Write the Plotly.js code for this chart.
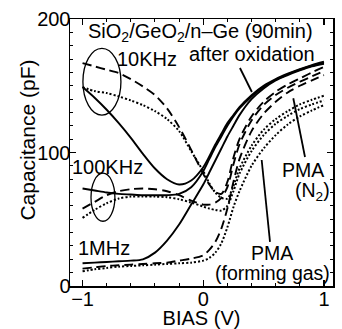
<!DOCTYPE html>
<html>
<head>
<meta charset="utf-8">
<script src="https://cdn.plot.ly/plotly-3.0.1.min.js"></script>
<style>html,body{margin:0;padding:0;background:#fff;}#chart{width:342px;height:329px;}</style>
</head>
<body>
<div id="chart"></div>
<script>
// Bias voltage (V)
const bias = [-1,-0.9,-0.8,-0.7,-0.6,-0.5,-0.4,-0.3,-0.2,-0.1,0,0.05,0.1,0.15,0.2,0.25,0.3,0.4,0.5,0.6,0.7,0.8,0.9,1];
// After oxidation (solid)
const afterOx10k  = [149,141,132,122,111,99,88,80,76,79,89,97,106,114,122,128,134,143,150,155,159,162.5,165.5,168];
const afterOx100k = [73,71.5,70,69,68.5,68,68,68,69,74,86,95,104,112,120,127,133,142,149,154.5,158.5,162,165,167];
const afterOx1M   = [17,17.5,18,18.5,19,20,25,34,46,61,76,85,94,103,112,120,128,140,148,154,158,161.5,164.5,166.5];
// PMA (N2) (dashed)
const pmaN2_10k  = [167,164.5,162,159.5,155,149.5,143,133,119,102,84,76,70.5,69,78,96,110,127,138,145.5,151,155.5,160,164];
const pmaN2_100k = [58,63,68,71,72.5,73,72.5,71,68,64,61,61,62.5,66,74,91,106,124,135.5,143,148.5,153,157,161];
const pmaN2_1M   = [13,14,15,15.5,16,16.5,17,17.5,19,20.5,23,27,33,43,58,78,95,116,129,138,145,150,154,158];
// PMA (forming gas) (dotted)
const pmaFG_10k  = [149,146,144.5,142,139,135.5,131,125,116,101,86,77,70,66,65.5,75,88,105,117,125,131,136,139.5,142.5];
const pmaFG_100k = [51,57,62,65.5,67,67,67,66.5,65,62.5,59.5,58,57,56.5,60,71,84,101,113,121.5,127.5,132.5,136,139];
const pmaFG_1M   = [11,12.5,13.5,14.5,15,15.5,16,16.5,17,17.5,19,21,25,32,44,59,71,90,103,113,121,127,131.5,135.5];

const xTicks = [-1, 0, 1];
const yTicks = [0, 100, 200];

const FONT = 'Liberation Sans, Arial, Helvetica, sans-serif';
const styles = {
  solid: {color:'#000', width:1.9, dash:'solid'},
  dash:  {color:'#000', width:1.9, dash:'9px,5px'},
  dot:   {color:'#000', width:2, dash:'2px,2px'}
};
function tr(y, st){
  return {x: bias, y: y, type:'scatter', mode:'lines', line: Object.assign({shape:'spline', smoothing:0.8}, styles[st]), showlegend:false, hoverinfo:'skip'};
}
const data = [
  tr(afterOx10k,'solid'), tr(afterOx100k,'solid'), tr(afterOx1M,'solid'),
  tr(pmaN2_10k,'dash'), tr(pmaN2_100k,'dash'), tr(pmaN2_1M,'dash'),
  tr(pmaFG_10k,'dot'), tr(pmaFG_100k,'dot'), tr(pmaFG_1M,'dot')
];

function ann(text, x, y, size, xanchor){
  return {text:text, x:x, y:y, xref:'x', yref:'y', showarrow:false, xanchor:xanchor||'center', yanchor:'middle', font:{family:FONT, size:size||20, color:'#000'}};
}
const annotations = [
  ann('SiO<sub>2</sub>/GeO<sub>2</sub>/n–Ge (90min)', -0.02, 190, 20),
  ann('10KHz', -0.47, 170),
  ann('after oxidation', 0.40, 173.5),
  ann('100KHz', -0.79, 89),
  ann('1MHz', -0.82, 28.5),
  ann('PMA', 0.83, 87, 19.5),
  ann('(N<sub>2</sub>)', 0.905, 70.5, 19.5),
  ann('PMA', 0.57, 25, 19.5),
  ann('(forming gas)', 0.57, 9.5, 19.5),
  {text:'Capacitance (pF)', xref:'paper', yref:'paper', x:-0.163, y:0.545, textangle:-90,
   showarrow:false, xanchor:'center', yanchor:'middle', font:{family:FONT, size:21, color:'#000'}}
];
const shapes = [
  {type:'circle', xref:'x', yref:'y', x0:-0.997, x1:-0.682, y0:128, y1:178, line:{color:'#000', width:1.3}},
  {type:'circle', xref:'x', yref:'y', x0:-0.93, x1:-0.732, y0:48.5, y1:84.5, line:{color:'#000', width:1.3}},
  {type:'line', xref:'x', yref:'y', x0:0.304, y0:163.3, x1:0.403, y1:145.3, line:{color:'#000', width:1.8}},
  {type:'line', xref:'x', yref:'y', x0:0.746, y0:140.6, x1:0.843, y1:96.6, line:{color:'#000', width:1.8}},
  {type:'line', xref:'x', yref:'y', x0:0.484, y0:94.4, x1:0.553, y1:33, line:{color:'#000', width:1.8}}
];

const axisCommon = {
  showgrid:false, zeroline:false, showline:true, linecolor:'#000', linewidth:1.5, mirror:'ticks',
  ticks:'inside', ticklen:6, tickwidth:1.2, tickcolor:'#000',
  tickfont:{family:FONT, size:20, color:'#000'}
};
const layout = {
  width:342, height:329,
  margin:{l:70, r:9, t:19, b:43, pad:0},
  paper_bgcolor:'#fff', plot_bgcolor:'#fff',
  font:{family:FONT, color:'#000'},
  xaxis: Object.assign({}, axisCommon, {
    range:[-1.104, 1.075], tickmode:'array', tickvals:xTicks, ticktext:['−1','0','1'],
    ticklabelstandoff:-6,
    minor:{dtick:0.2, ticks:'inside', ticklen:3, tickwidth:1, tickcolor:'#000'},
    title:{text:'BIAS (V)', font:{family:FONT, size:20, color:'#000'}, standoff:0}
  }),
  yaxis: Object.assign({}, axisCommon, {
    range:[0, 200], tickmode:'array', tickvals:yTicks, ticktext:['0','100','200'],
    ticklabelstandoff:-6,
    minor:{dtick:10, ticks:'inside', ticklen:3, tickwidth:1, tickcolor:'#000'}
  }),
  annotations: annotations,
  shapes: shapes
};
Plotly.newPlot('chart', data, layout, {staticPlot:true, displayModeBar:false});
</script>
</body>
</html>
